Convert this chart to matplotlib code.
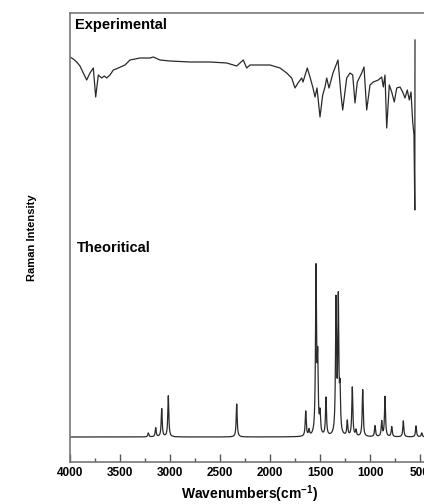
import numpy as np
import matplotlib.pyplot as plt
from matplotlib.ticker import MultipleLocator

plt.rcParams['font.family'] = ['Liberation Sans', 'DejaVu Sans']
plt.rcParams['mathtext.fontset'] = 'custom'
plt.rcParams['mathtext.rm'] = 'Liberation Sans:bold'
plt.rcParams['mathtext.bf'] = 'Liberation Sans:bold'

# experimental spectrum (wavenumber, intensity in arbitrary units)
exp_wn = [4000, 3967, 3933, 3900, 3867, 3833, 3800, 3767, 3743, 3717, 3683, 3657,
          3633, 3600, 3567, 3517, 3450, 3400, 3300, 3200, 3167, 3100, 3000, 2800,
          2600, 2433, 2333, 2267, 2233, 2200, 2000, 1967, 1900, 1833, 1783, 1750,
          1720, 1683, 1670, 1627, 1600, 1570, 1550, 1530, 1500, 1473, 1450, 1433,
          1410, 1370, 1320, 1290, 1273, 1233, 1200, 1173, 1150, 1127, 1083, 1060,
          1033, 1000, 967, 917, 883, 867, 850, 833, 807, 783, 757, 733, 700, 673,
          650, 627, 607, 590, 573, 560, 552, 550]
exp_int = [405, 403, 400, 396, 389, 382, 389, 394, 365, 387, 384, 386,
           384, 387, 392, 394, 397, 402, 404, 404, 405, 402, 401, 400,
           400, 399, 396, 402, 394, 397, 397, 396, 394, 389, 384, 374,
           379, 384, 380, 394, 385, 374, 365, 374, 345, 367, 375, 384,
           374, 389, 402, 367, 352, 384, 389, 387, 359, 380, 389, 395,
           352, 377, 380, 382, 385, 375, 387, 334, 377, 370, 360, 374, 375, 370,
           364, 372, 362, 370, 340, 327, 252, 422]

# theoretical peaks (position, height)
theo_pos = [3217, 3143, 3083, 3017, 2333, 1643, 1610, 1540, 1523, 1500, 1440,
            1340, 1317, 1300, 1227, 1177, 1140, 1073, 950, 883, 850, 783, 667, 540, 483]
theo_h = [4, 9, 28, 41, 33, 25, 6, 165, 70, 20, 38,
          132, 132, 40, 15, 49, 6, 47, 11, 15, 40, 10, 16, 11, 4]
theo_base = 25

fig = plt.figure(figsize=(4.24, 5.04), dpi=100)
ax = fig.add_axes([70 / 424, 42 / 504, 360 / 424, 449 / 504])

ax.plot(exp_wn, exp_int, color='#2a2a2a', lw=0.9)

wn = np.linspace(4000, 400, 6000)
theo = np.full_like(wn, theo_base, dtype=float)
gam = 6.0
for p, h in zip(theo_pos, theo_h):
    theo += h * gam**2 / ((wn - p)**2 + gam**2)
ax.plot(wn, theo, color='#2a2a2a', lw=0.9)

ax.set_xlim(4000, 400)
ax.set_ylim(0, 449)
ax.xaxis.set_major_locator(MultipleLocator(500))
ax.xaxis.set_minor_locator(MultipleLocator(250))
ax.tick_params(axis='x', which='major', direction='in', length=6, width=1, color='#555555')
ax.tick_params(axis='x', which='minor', direction='in', length=3, width=1, color='#555555')
ax.set_yticks([])
for lab in ax.get_xticklabels():
    lab.set_fontweight('bold')
    lab.set_fontsize(8.5)
for s in ax.spines.values():
    s.set_color('#777777')
    s.set_linewidth(1.2)

ax.text(3950, 437, 'Experimental', fontsize=10.5, fontweight='bold', va='center', ha='left')
ax.text(3930, 214, 'Theoritical', fontsize=10.5, fontweight='bold', va='center', ha='left')

ax.set_xlabel('Wavenumbers(cm$^{-1}$)', fontsize=10, fontweight='bold', labelpad=3)
ax.set_ylabel('Raman Intensity', fontsize=8, fontweight='bold', labelpad=24)

fig.savefig('out.png', dpi=100)
